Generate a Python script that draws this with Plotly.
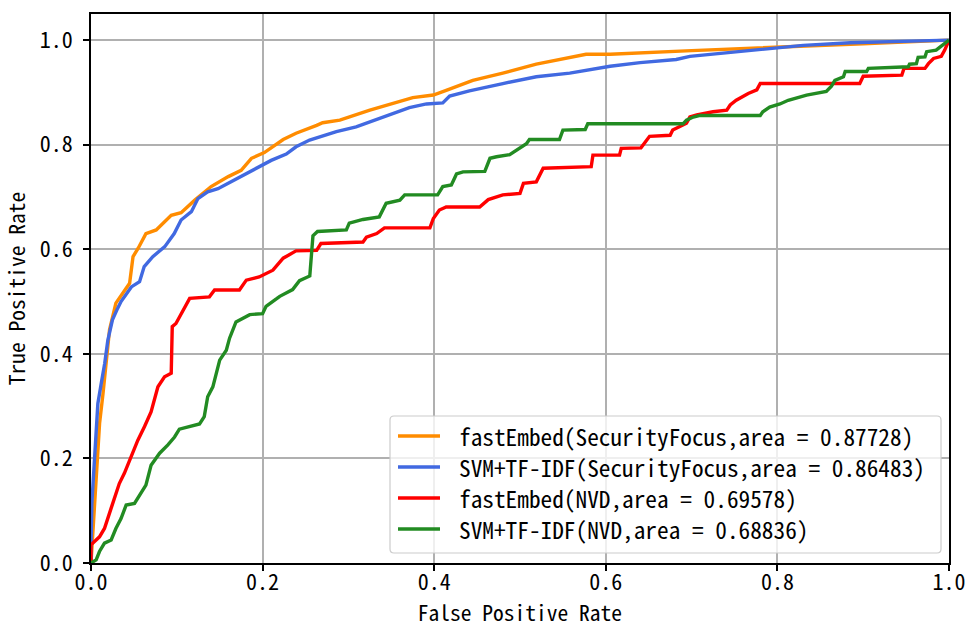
import plotly.graph_objects as go

# fastEmbed (SecurityFocus)
fe_sf_fpr = [0, 0.002, 0.006, 0.01, 0.014, 0.018, 0.0216, 0.029, 0.039, 0.045, 0.049, 0.055, 0.064, 0.076,
             0.0935, 0.105, 0.121, 0.140, 0.160, 0.175, 0.187, 0.202, 0.224, 0.239, 0.263, 0.270, 0.29, 0.325,
             0.375, 0.399, 0.414, 0.445, 0.48, 0.519, 0.577, 0.605, 0.7, 0.8, 0.9, 1.0]
fe_sf_tpr = [0, 0.05, 0.152, 0.267, 0.324, 0.394, 0.446, 0.497, 0.522, 0.535, 0.586, 0.602, 0.630, 0.637,
             0.665, 0.670, 0.694, 0.720, 0.739, 0.751, 0.774, 0.785, 0.810, 0.822, 0.837, 0.842, 0.847, 0.866,
             0.890, 0.895, 0.904, 0.923, 0.937, 0.954, 0.973, 0.973, 0.980, 0.986, 0.993, 1.0]

# SVM+TF-IDF (SecurityFocus)
svm_sf_fpr = [0, 0, 0.001, 0.004, 0.008, 0.012, 0.016, 0.0196, 0.025, 0.031, 0.035, 0.047, 0.0566, 0.062,
              0.072, 0.086, 0.097, 0.105, 0.117, 0.1246, 0.136, 0.148, 0.163, 0.187, 0.21, 0.2276, 0.239,
              0.2548, 0.286, 0.309, 0.34, 0.371, 0.391, 0.41, 0.418, 0.441, 0.48, 0.519, 0.558, 0.581, 0.605,
              0.64, 0.682, 0.698, 0.745, 0.791, 0.83, 0.885, 1.0]
svm_sf_tpr = [0, 0.031, 0.114, 0.203, 0.305, 0.344, 0.382, 0.426, 0.465, 0.487, 0.500, 0.528, 0.538, 0.567,
              0.586, 0.605, 0.630, 0.656, 0.672, 0.697, 0.710, 0.716, 0.729, 0.751, 0.770, 0.782, 0.796,
              0.809, 0.825, 0.834, 0.852, 0.871, 0.878, 0.880, 0.893, 0.903, 0.917, 0.930, 0.937, 0.943, 0.950,
              0.957, 0.963, 0.969, 0.977, 0.984, 0.990, 0.995, 1.0]

# fastEmbed (NVD)
fe_nvd_fpr = [0, 0, 0.0099, 0.0157, 0.0235, 0.033, 0.039, 0.047, 0.0546, 0.0624, 0.070, 0.078, 0.0857,
              0.0935, 0.0947, 0.099, 0.105, 0.115, 0.138, 0.144, 0.173, 0.181, 0.196, 0.212, 0.224, 0.239,
              0.263, 0.268, 0.317, 0.321, 0.333, 0.342, 0.395, 0.399, 0.406, 0.414, 0.453, 0.463, 0.480,
              0.500, 0.504, 0.519, 0.527, 0.583, 0.585, 0.616, 0.618, 0.641, 0.651, 0.675, 0.678, 0.694,
              0.698, 0.706, 0.725, 0.741, 0.745, 0.752, 0.766, 0.776, 0.780, 0.896, 0.90, 0.945, 0.9475,
              0.972, 0.976, 0.982, 0.991, 0.995, 1.0]
fe_nvd_tpr = [0, 0.035, 0.050, 0.066, 0.105, 0.152, 0.172, 0.203, 0.235, 0.261, 0.289, 0.337, 0.356,
              0.363, 0.452, 0.458, 0.477, 0.506, 0.509, 0.522, 0.522, 0.541, 0.547, 0.560, 0.583, 0.597,
              0.598, 0.611, 0.614, 0.623, 0.630, 0.641, 0.641, 0.659, 0.675, 0.681, 0.681, 0.695, 0.704,
              0.707, 0.726, 0.729, 0.755, 0.758, 0.780, 0.780, 0.793, 0.794, 0.816, 0.818, 0.828, 0.841,
              0.853, 0.857, 0.863, 0.866, 0.876, 0.885, 0.898, 0.905, 0.917, 0.917, 0.931, 0.933, 0.946,
              0.946, 0.955, 0.965, 0.969, 0.981, 1.0]

# SVM+TF-IDF (NVD)
svm_nvd_fpr = [0, 0.006, 0.0099, 0.0157, 0.0235, 0.029, 0.035, 0.041, 0.0507, 0.0585, 0.064, 0.070, 0.080,
               0.0896, 0.0974, 0.103, 0.1265, 0.132, 0.136, 0.142, 0.150, 0.1577, 0.1615, 0.169, 0.185, 0.2,
               0.204, 0.216, 0.22, 0.235, 0.243, 0.255, 0.2587, 0.264, 0.2976, 0.301, 0.317, 0.336, 0.344,
               0.36, 0.3656, 0.404, 0.41, 0.42, 0.426, 0.4336, 0.459, 0.465, 0.4726, 0.488, 0.5075, 0.511,
               0.546, 0.550, 0.576, 0.579, 0.690, 0.694, 0.702, 0.71, 0.780, 0.783, 0.791, 0.803, 0.8126,
               0.834, 0.857, 0.863, 0.867, 0.877, 0.879, 0.904, 0.906, 0.9525, 0.954, 0.962, 0.964, 0.972,
               0.974, 0.985, 1.0]
svm_nvd_tpr = [0, 0.006, 0.022, 0.038, 0.044, 0.066, 0.085, 0.111, 0.114, 0.133, 0.149, 0.187, 0.210,
               0.226, 0.241, 0.256, 0.266, 0.280, 0.318, 0.337, 0.388, 0.407, 0.430, 0.461, 0.475, 0.477,
               0.491, 0.505, 0.510, 0.523, 0.540, 0.549, 0.626, 0.634, 0.637, 0.650, 0.657, 0.662, 0.688,
               0.694, 0.704, 0.704, 0.720, 0.723, 0.744, 0.748, 0.749, 0.774, 0.777, 0.781, 0.802, 0.810,
               0.810, 0.828, 0.829, 0.840, 0.840, 0.847, 0.853, 0.856, 0.856, 0.863, 0.872, 0.878, 0.885,
               0.895, 0.902, 0.912, 0.923, 0.930, 0.940, 0.940, 0.946, 0.949, 0.954, 0.955, 0.967, 0.968,
               0.978, 0.981, 1.0]

series_names = [
    "fastEmbed(SecurityFocus,area = 0.87728)",
    "SVM+TF-IDF(SecurityFocus,area = 0.86483)",
    "fastEmbed(NVD,area = 0.69578)",
    "SVM+TF-IDF(NVD,area = 0.68836)",
]
series_colors = ["#FF8C00", "#4169E1", "#FF0000", "#228B22"]
series_data = [(fe_sf_fpr, fe_sf_tpr), (svm_sf_fpr, svm_sf_tpr),
               (fe_nvd_fpr, fe_nvd_tpr), (svm_nvd_fpr, svm_nvd_tpr)]

tick_vals = [0.0, 0.2, 0.4, 0.6, 0.8, 1.0]
tick_text = ["0.0", "0.2", "0.4", "0.6", "0.8", "1.0"]

FONT = "Noto Sans Mono CJK SC, Noto Sans CJK SC, DejaVu Sans Mono, monospace"

W, H = 971, 627
ML, MR, MT, MB = 91, 22, 14, 64
PW, PH = W - ML - MR, H - MT - MB


def px_x(px):
    return (px - ML) / PW


def px_y(py):
    return (H - MB - py) / PH


fig = go.Figure()
for name, color, (fx, fy) in zip(series_names, series_colors, series_data):
    fig.add_trace(go.Scatter(x=fx, y=fy, mode="lines", name=name, showlegend=False,
                             line=dict(color=color, width=3.4)))

axis_common = dict(
    showline=True, linecolor="black", linewidth=1.5, mirror=True,
    ticks="outside", ticklen=6, tickwidth=1.5, tickcolor="black",
    showgrid=True, gridcolor="#b0b0b0", gridwidth=1.5,
    zeroline=False, tickvals=tick_vals, ticktext=tick_text,
    tickfont=dict(family=FONT, size=22, color="black"),
    title_font=dict(family=FONT, size=21.5, color="black"),
    automargin=False,
)

fig.update_xaxes(range=[0.0, 1.0], title_text="False Positive Rate", title_standoff=22,
                 ticklabelstandoff=-7, **axis_common)
fig.update_yaxes(range=[0.0, 1.05], title_text="True Positive Rate", title_standoff=10,
                 ticklabelstandoff=6, **axis_common)

# legend box (matplotlib-style, drawn manually)
bx0, bx1 = px_x(390), px_x(941)
by0, by1 = px_y(553), px_y(416)
rx, ry = 4 / PW, 4 / PH
path = (f"M {bx0+rx},{by0} L {bx1-rx},{by0} Q {bx1},{by0} {bx1},{by0+ry} "
        f"L {bx1},{by1-ry} Q {bx1},{by1} {bx1-rx},{by1} "
        f"L {bx0+rx},{by1} Q {bx0},{by1} {bx0},{by1-ry} "
        f"L {bx0},{by0+ry} Q {bx0},{by0} {bx0+rx},{by0} Z")
shapes = [dict(type="path", path=path, xref="paper", yref="paper",
               fillcolor="rgba(255,255,255,0.8)", line=dict(color="#cccccc", width=1.2),
               layer="above")]
annotations = []
row_y = [436, 467, 498, 529]
for name, color, ry_px in zip(series_names, series_colors, row_y):
    yy = px_y(ry_px)
    shapes.append(dict(type="line", xref="paper", yref="paper",
                       x0=px_x(398), x1=px_x(440), y0=yy, y1=yy,
                       line=dict(color=color, width=3.4), layer="above"))
    annotations.append(dict(xref="paper", yref="paper", x=px_x(457), y=yy,
                            xanchor="left", yanchor="middle", showarrow=False,
                            text=name, font=dict(family=FONT, size=23.3, color="black")))

fig.update_layout(
    width=W, height=H,
    margin=dict(l=ML, r=MR, t=MT, b=MB),
    plot_bgcolor="white", paper_bgcolor="white",
    font=dict(family=FONT, size=22, color="black"),
    showlegend=False,
    shapes=shapes,
    annotations=annotations,
)

fig.write_html("out.html")
